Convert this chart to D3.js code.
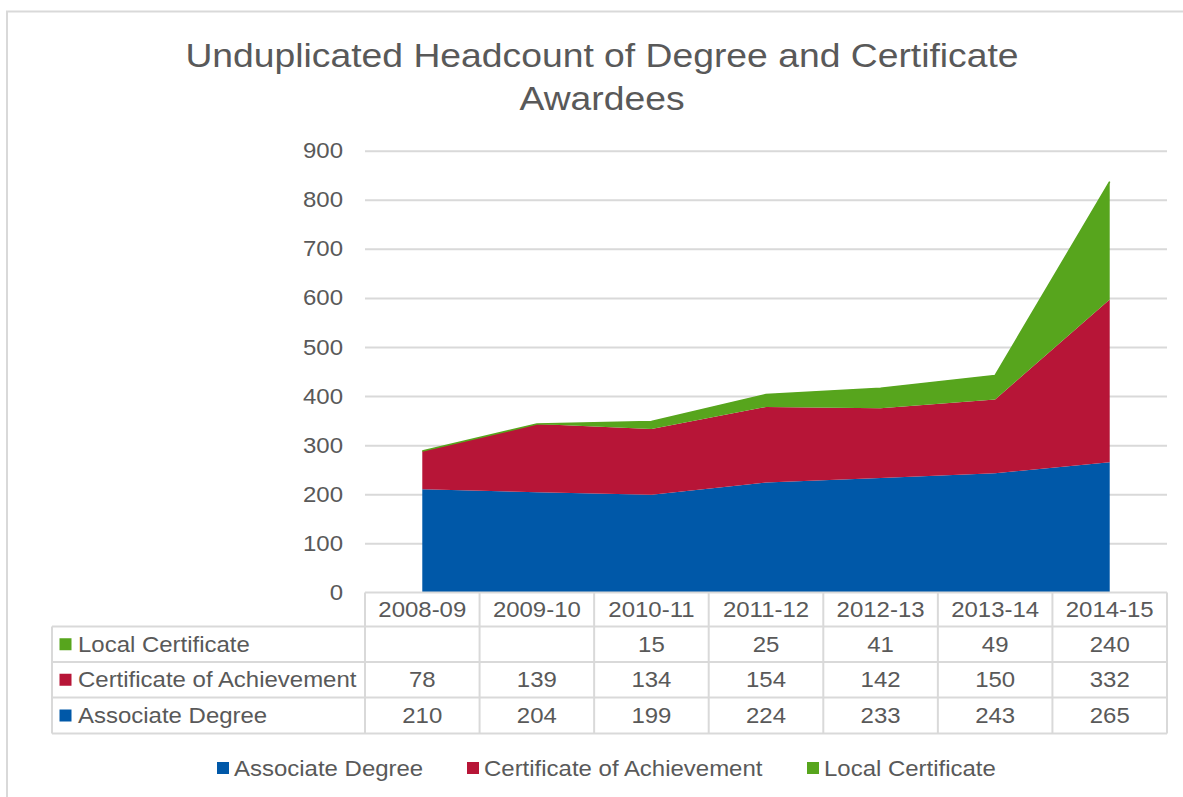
<!DOCTYPE html>
<html>
<head>
<meta charset="utf-8">
<script src="https://cdn.jsdelivr.net/npm/d3@7"></script>
<style>
  html, body { margin: 0; padding: 0; background: #fff; }
  svg { display: block; }
  text { font-family: "Liberation Sans", Arial, sans-serif; fill: #595959; }
</style>
</head>
<body>
<svg id="chart" width="1183" height="797"></svg>
<script>
// Award years shown along the category axis
const categories = ["2008-09", "2009-10", "2010-11", "2011-12", "2012-13", "2013-14", "2014-15"];

// Headcount per award type (null = no awardees reported)
const associateDegree = [210, 204, 199, 224, 233, 243, 265];
const certificateOfAchievement = [78, 139, 134, 154, 142, 150, 332];
const localCertificate = [null, null, 15, 25, 41, 49, 240];

const seriesNames = ["Associate Degree", "Certificate of Achievement", "Local Certificate"];
const seriesColors = ["#0058a8", "#b71537", "#57a51d"];
const yTicks = [0, 100, 200, 300, 400, 500, 600, 700, 800, 900];

const svg = d3.select("#chart");
const stretch = 1.09;
const gridColor = "#d9d9d9";

// Text drawn with a slight horizontal stretch, anchored at (x, y)
function label(parent, x, y, str, anchor, size, sx = stretch) {
  return parent.append("text")
    .attr("transform", `translate(${x},${y}) scale(${sx},1)`)
    .attr("text-anchor", anchor)
    .attr("dy", "0.35em")
    .style("font-size", size + "px")
    .text(str);
}

// Outer frame
svg.append("path")
  .attr("d", "M7,797 V11.5 H1183")
  .attr("fill", "none")
  .attr("stroke", gridColor)
  .attr("stroke-width", 2);

// Title
label(svg, 602, 55, "Unduplicated Headcount of Degree and Certificate", "middle", 34, 1.097);
label(svg, 602, 98, "Awardees", "middle", 34, 1.097);

// Scales
const left = 365, right = 1167;
const x = d3.scaleBand().domain(categories).range([left, right]);
const y = d3.scaleLinear().domain([0, 900]).range([592.4, 150.7]);
const cx = c => x(c) + x.bandwidth() / 2;

// Horizontal gridlines
const grid = svg.append("g")
  .attr("transform", `translate(${left},0)`)
  .call(d3.axisLeft(y).tickValues(yTicks.filter(v => v > 0)).tickSize(-(right - left)).tickFormat(""));
grid.select(".domain").remove();
grid.selectAll("line").attr("stroke", gridColor).attr("stroke-width", 2);

// Stacked areas
const rows = categories.map((c, i) => ({
  cat: c,
  "Associate Degree": associateDegree[i],
  "Certificate of Achievement": certificateOfAchievement[i],
  "Local Certificate": localCertificate[i] == null ? 0 : localCertificate[i]
}));
const stacked = d3.stack().keys(seriesNames)(rows);

const area = d3.area()
  .x(d => cx(d.data.cat))
  .y0(d => y(d[0]))
  .y1(d => y(d[1]));

svg.append("g").selectAll("path")
  .data(stacked)
  .join("path")
  .attr("d", area)
  .attr("fill", (d, i) => seriesColors[i]);

// Thin outline along the top of the local certificate band
const topLine = d3.line().x(d => cx(d.data.cat)).y(d => y(d[1]));
svg.append("path")
  .attr("d", topLine(stacked[2]))
  .attr("fill", "none")
  .attr("stroke", seriesColors[2])
  .attr("stroke-width", 1.6);

// Y axis labels
const yAxis = svg.append("g")
  .attr("transform", "translate(343,0)")
  .call(d3.axisLeft(y).tickValues(yTicks).tickSize(0).tickPadding(0));
yAxis.select(".domain").remove();
yAxis.selectAll("text")
  .attr("x", 0)
  .attr("transform", `scale(${stretch},1)`)
  .style("font-size", "22px")
  .style("font-family", "'Liberation Sans', Arial, sans-serif")
  .attr("fill", "#595959");

// Data table
const tableTop = 592.4;
const rowEdges = [tableTop, 626.5, 662, 697.5, 733.5];
const tableLeft = 52;
const table = svg.append("g");
const tableRows = [
  { name: "Local Certificate", values: localCertificate, color: seriesColors[2] },
  { name: "Certificate of Achievement", values: certificateOfAchievement, color: seriesColors[1] },
  { name: "Associate Degree", values: associateDegree, color: seriesColors[0] }
];

// Grid lines of the table
const tline = (x1, y1, x2, y2) => table.append("line")
  .attr("x1", x1).attr("y1", y1).attr("x2", x2).attr("y2", y2)
  .attr("stroke", gridColor).attr("stroke-width", 2);
tline(left, rowEdges[0], right, rowEdges[0]);
for (let r = 1; r < rowEdges.length; r++) tline(tableLeft, rowEdges[r], right, rowEdges[r]);
tline(tableLeft, rowEdges[1], tableLeft, rowEdges[4]);
categories.forEach(c => tline(x(c), rowEdges[0], x(c), rowEdges[4]));
tline(right, rowEdges[0], right, rowEdges[4]);

// Header row
categories.forEach(c => label(table, cx(c), (rowEdges[0] + rowEdges[1]) / 2, c, "middle", 22));

// Body rows
tableRows.forEach((row, r) => {
  const yc = (rowEdges[r + 1] + rowEdges[r + 2]) / 2;
  table.append("rect")
    .attr("x", 59.5).attr("y", yc - 6)
    .attr("width", 12).attr("height", 12)
    .attr("fill", row.color);
  label(table, 78, yc, row.name, "start", 22);
  row.values.forEach((v, i) => {
    if (v != null) label(table, cx(categories[i]), yc, String(v), "middle", 22);
  });
});

// Legend
const legendItems = [
  { name: "Associate Degree", color: seriesColors[0], x: 217 },
  { name: "Certificate of Achievement", color: seriesColors[1], x: 467 },
  { name: "Local Certificate", color: seriesColors[2], x: 807 }
];
const legend = svg.append("g");
legendItems.forEach(it => {
  legend.append("rect")
    .attr("x", it.x).attr("y", 768 - 6)
    .attr("width", 12).attr("height", 12)
    .attr("fill", it.color);
  label(legend, it.x + 17, 768, it.name, "start", 22);
});
</script>
</body>
</html>
